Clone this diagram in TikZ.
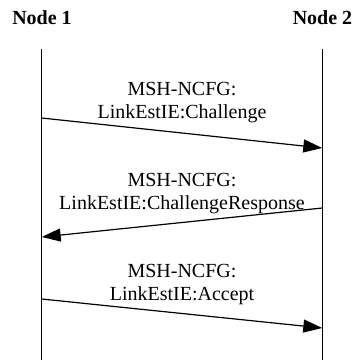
\documentclass[tikz,border=0pt]{standalone}
\usepackage{fontspec}
\setmainfont{Liberation Serif}
\usetikzlibrary{arrows.meta}
\begin{document}
\begin{tikzpicture}[x=1pt,y=-1pt,
  font=\fontsize{20}{23}\selectfont,
  lifeline/.style={line width=1.2pt},
  msg/.style={line width=1.2pt,-{Triangle[length=19pt,width=13pt]}},
  actor/.style={font=\fontsize{20}{23}\selectfont\bfseries,anchor=base,inner sep=0pt},
  msglabel/.style={anchor=base,inner sep=0pt},
]
\useasboundingbox (0,0) rectangle (355,360);

% participants
\node[actor] (n1) at (42,24) {Node 1};
\node[actor] (n2) at (322.5,24) {Node 2};

% lifelines
\coordinate (n1top) at (41.7,49);
\coordinate (n1bot) at (41.7,362);
\coordinate (n2top) at (322.3,49);
\coordinate (n2bot) at (322.3,362);
\draw[lifeline] (n1top) -- (n1bot);
\draw[lifeline] (n2top) -- (n2bot);

% message end points
\coordinate (m1s) at (41.7,118);  \coordinate (m1e) at (322.3,148);
\coordinate (m2s) at (322.3,208); \coordinate (m2e) at (41.7,237);
\coordinate (m3s) at (41.7,299);  \coordinate (m3e) at (322.3,328);

% messages
\draw[msg] (m1s) -- (m1e);
\draw[msg] (m2s) -- (m2e);
\draw[msg] (m3s) -- (m3e);

% message labels
\node[msglabel] (l1a) at (182,95) {MSH-NCFG:};
\node[msglabel] (l1b) at (182,118) {LinkEstIE:Challenge};
\node[msglabel] (l2a) at (182,186) {MSH-NCFG:};
\node[msglabel] (l2b) at (182,209) {LinkEstIE:ChallengeResponse};
\node[msglabel] (l3a) at (182,277) {MSH-NCFG:};
\node[msglabel] (l3b) at (182,300) {LinkEstIE:Accept};
\end{tikzpicture}
\end{document}
